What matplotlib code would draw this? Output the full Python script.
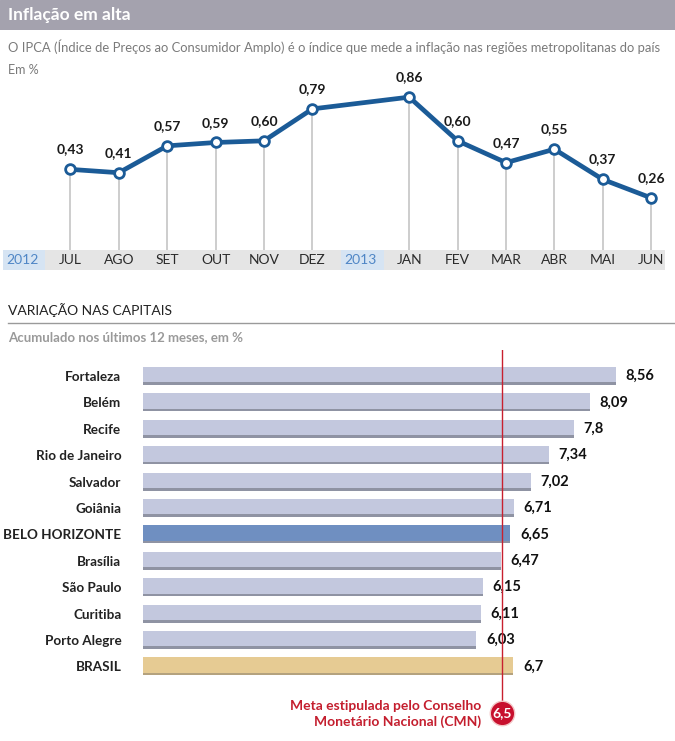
import matplotlib
matplotlib.use('Agg')
import matplotlib.pyplot as plt
from matplotlib.patches import Rectangle
import numpy as np

plt.rcParams['font.family'] = ['Lato', 'DejaVu Sans']

# ---- dados ----
meses = ['JUL', 'AGO', 'SET', 'OUT', 'NOV', 'DEZ', 'JAN', 'FEV', 'MAR', 'ABR', 'MAI', 'JUN']
ipca = [0.43, 0.41, 0.57, 0.59, 0.60, 0.79, 0.86, 0.60, 0.47, 0.55, 0.37, 0.26]
anos = ['2012', '2013']

capitais = ['Fortaleza', 'Belém', 'Recife', 'Rio de Janeiro', 'Salvador', 'Goiânia',
            'BELO HORIZONTE', 'Brasília', 'São Paulo', 'Curitiba', 'Porto Alegre', 'BRASIL']
acumulado = [8.56, 8.09, 7.8, 7.34, 7.02, 6.71, 6.65, 6.47, 6.15, 6.11, 6.03, 6.7]
meta = 6.5

W, H = 675, 741
fig = plt.figure(figsize=(W / 100, H / 100), dpi=100)
fig.patch.set_facecolor('white')


def fx(px):
    return px / W


def fy(py):
    return 1 - py / H


def box(l, t, r, b):
    return [fx(l), fy(b), fx(r) - fx(l), (b - t) / H]


# ---- cabeçalho ----
hdr = fig.add_axes(box(0, 0, W, 30))
hdr.set_axis_off()
hdr.add_patch(Rectangle((0, 0), 1, 1, transform=hdr.transAxes, color='#a4a2ae'))
fig.text(fx(8), fy(15), 'Inflação em alta', color='white', fontsize=12.5, fontweight='bold', va='center')
fig.text(fx(8), fy(47), 'O IPCA (Índice de Preços ao Consumidor Amplo) é o índice que mede a inflação nas regiões metropolitanas do país',
         color='#7a7a7a', fontsize=9.35, va='center')
fig.text(fx(8), fy(70), 'Em %', color='#7a7a7a', fontsize=9, va='center')

# ---- gráfico de linha ----
# posições: slot 0 = 2012, slots 1-6 = JUL-DEZ, slot 7 = 2013, slots 8-13 = JAN-JUN
xs = [i + 1 for i in range(6)] + [i + 8 for i in range(6)]
x_anos = [0, 7]
xlim = (-22 / 48.4, (W - 22) / 48.4)

ax = fig.add_axes(box(0, 80, W, 250))
ax.set_xlim(*xlim)
ax.set_ylim(-0.05, 0.962)
ax.set_axis_off()
ax.vlines(xs, -0.05, ipca, color='#c9c9c9', lw=1.3, zorder=1)
ax.plot(xs, ipca, color='#1b5b97', lw=3.4, marker='o', ms=7, mfc='white', mec='#1b5b97', mew=2, zorder=3,
        solid_joinstyle='round')
for x, v in zip(xs, ipca):
    ax.annotate(f'{v:.2f}'.replace('.', ','), (x, v), xytext=(0, 10), textcoords='offset points',
                ha='center', va='bottom', fontsize=10, fontweight='bold', color='#1a1a1a')

# faixa dos meses
band = fig.add_axes(box(0, 250, W, 270))
band.set_xlim(*xlim)
band.set_ylim(0, 1)
band.set_axis_off()
band.axvspan(-0.4, 13.28, color='#e5e5e5', lw=0)
for x, a in zip(x_anos, anos):
    band.axvspan(x - 0.4, x + 0.47, color='#d6e4f3', lw=0)
    band.text(x, 0.5, a, ha='center', va='center', fontsize=10, color='#4f86c6')
for x, m in zip(xs, meses):
    band.text(x, 0.5, m, ha='center', va='center', fontsize=10, color='#2a2a2a')

# ---- variação nas capitais ----
fig.text(fx(8), fy(310), 'VARIAÇÃO NAS CAPITAIS', color='#222222', fontsize=10, va='center')
fig.add_artist(plt.Line2D([fx(8), fx(W)], [fy(323), fy(323)], color='#9a9a9a', lw=1))
fig.text(fx(8), fy(337), 'Acumulado nos últimos 12 meses, em %', color='#9a9a9a', fontsize=9.5,
         fontweight='bold', va='center')

bx = fig.add_axes(box(143, 350, W, 705))
bx.set_xlim(0, 532 / 55.26)
bx.set_ylim(12.462, -0.985)
for s in bx.spines.values():
    s.set_visible(False)
bx.tick_params(axis='x', bottom=False, labelbottom=False)
bx.tick_params(axis='y', left=False, pad=12)

ys = np.arange(len(capitais))
cores = ['#c3c8de'] * len(capitais)
cores[capitais.index('BELO HORIZONTE')] = '#6f8fc1'
cores[capitais.index('BRASIL')] = '#e6cb93'
sombra = ['#8f93a3'] * len(capitais)
sombra[capitais.index('BRASIL')] = '#b4a27e'

bx.barh(ys, acumulado, height=0.68, color=sombra, lw=0, zorder=1)
bx.barh(ys - 0.05, acumulado, height=0.58, color=cores, lw=0, zorder=2)
bx.set_yticks(ys)
bx.set_yticklabels(capitais, fontsize=9.7, fontweight='bold', color='#222222')

for y, v in zip(ys, acumulado):
    txt = f'{v:g}'.replace('.', ',')
    bx.annotate(txt, (v, y), xytext=(7, 0), textcoords='offset points', ha='left', va='center',
                fontsize=10.5, fontweight='bold', color='#111111')

bx.axvline(meta, color='#c8202f', lw=1, zorder=3)
bx.scatter([meta], [-0.023], s=310, color='#c8102e', edgecolor='#f3c6c6', lw=1,
           transform=bx.get_xaxis_transform(), clip_on=False, zorder=5)
bx.text(meta, -0.023, f'{meta:g}'.replace('.', ','), transform=bx.get_xaxis_transform(),
        ha='center', va='center', fontsize=10, fontweight='bold', color='white', zorder=6, clip_on=False)
fig.text(fx(481), fy(714), 'Meta estipulada pelo Conselho\nMonetário Nacional (CMN)', ha='right', va='center',
         color='#c41e2e', fontsize=10, fontweight='bold', linespacing=1.3)

fig.savefig('out.png', dpi=100, facecolor='white')
